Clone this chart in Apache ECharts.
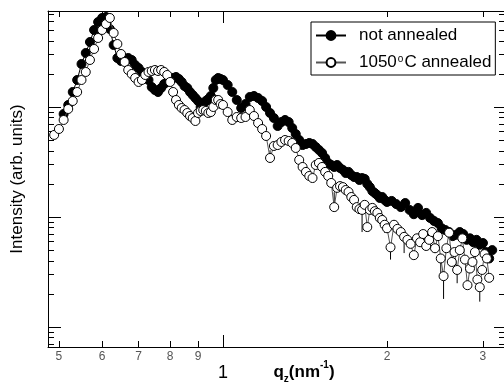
<!DOCTYPE html>
<html><head><meta charset="utf-8">
<script src="https://cdn.jsdelivr.net/npm/echarts@6/dist/echarts.min.js"></script>
<style>html,body{margin:0;padding:0;background:#fff}#c{width:504px;height:385px}</style>
</head><body><div id="c"></div>
<script>
// ---- data (q_z in nm^-1, intensity in arb. units) ----
const qNot = [0.51,0.52,0.53,0.54,0.55,0.56,0.57,0.58,0.59,0.60,
  0.61,0.62,0.63,0.64,0.65,0.66,0.67,0.68,0.69,0.70,
  0.71,0.72,0.73,0.74,0.75,0.76,0.77,0.78,0.79,0.80,
  0.81,0.82,0.83,0.84,0.85,0.86,0.87,0.88,0.89,0.90,
  0.91,0.92,0.93,0.94,0.95,0.96,0.97,0.98,0.99,1.00,
  1.02,1.04,1.06,1.08,1.10,1.12,1.14,1.16,1.18,1.20,
  1.22,1.24,1.26,1.28,1.30,1.32,1.34,1.36,1.38,1.40,
  1.42,1.44,1.46,1.48,1.50,1.52,1.54,1.56,1.58,1.60,
  1.62,1.64,1.66,1.68,1.70,1.72,1.74,1.76,1.78,1.80,
  1.82,1.84,1.86,1.88,1.90,1.92,1.94,1.96,1.98,2.00,
  2.04,2.08,2.12,2.16,2.20,2.24,2.28,2.32,2.36,2.40,
  2.44,2.48,2.52,2.56,2.60,2.64,2.68,2.72,2.76,2.80,
  2.84,2.88,2.92,2.96,3.00,3.04,3.08,3.12];
const iNot = [864,1043,1369,1760,2460,3097,3899,5012,5926,6445,
  6580,5119,3661,2789,2619,2675,2789,2675,2409,2262,
  2081,1954,1760,1520,1427,1369,1488,1619,1688,1760,
  1835,1874,1797,1688,1552,1488,1369,1285,1207,1134,
  1000,1065,1134,1182,1259,1488,1760,1835,1797,1760,
  1585,1369,1158,979,1065,1233,1259,1207,1134,1000,
  882,794,672,730,762,730,644,568,501,451,
  461,471,461,433,407,382,344,310,297,285,
  297,279,268,251,257,241,231,231,217,226,
  222,200,187,172,165,158,149,152,143,137,
  140,131,123,134,116,106,121,104,109,98,
  92,88,79,76,73,67,69,73,70,62,
  64,59,62,56,58,48,42,50];

const qAnn = [0.49,0.50,0.51,0.52,0.53,0.54,0.55,0.56,0.57,0.58,0.59,0.60,
  0.61,0.62,0.63,0.64,0.65,0.66,0.67,0.68,0.69,0.70,
  0.71,0.72,0.73,0.74,0.75,0.76,0.77,0.78,0.79,0.80,
  0.81,0.82,0.83,0.84,0.85,0.86,0.87,0.88,0.89,0.90,
  0.91,0.92,0.93,0.94,0.95,0.96,0.97,0.98,0.99,1.00,
  1.02,1.04,1.06,1.08,1.10,1.12,1.14,1.16,1.18,1.20,
  1.22,1.24,1.26,1.28,1.30,1.32,1.34,1.36,1.38,1.40,
  1.42,1.44,1.46,1.48,1.50,1.52,1.54,1.56,1.58,1.60,
  1.62,1.64,1.66,1.68,1.70,1.72,1.74,1.76,1.78,1.80,
  1.82,1.84,1.86,1.88,1.90,1.92,1.94,1.96,1.98,2.00,
  2.03,2.06,2.09,2.12,2.15,2.18,2.21,2.24,2.27,2.30,
  2.33,2.36,2.39,2.42,2.45,2.48,2.51,2.54,2.57,2.60,
  2.63,2.66,2.69,2.72,2.75,2.78,2.81,2.84,2.87,2.90,
  2.93,2.96,2.99,3.02,3.05,3.08];
const iAnn = [557,631,762,959,1134,1369,1760,2081,2675,3368,4240,5012,
  5681,6445,4708,3738,3033,2566,2169,1995,1835,1688,
  1760,1954,2081,2125,2169,2125,2169,2081,1954,1688,
  1369,1158,1043,979,939,882,828,794,746,882,
  920,939,920,882,900,1000,1158,1158,1065,1043,
  900,762,811,794,811,939,828,715,631,545,
  344,442,451,481,501,491,471,424,330,285,
  257,236,226,297,310,285,257,236,204,123,
  184,191,187,176,169,152,143,123,118,116,
  129,81,116,121,113,109,98,94,85,79,
  53,85,78,73,66,62,57,45,64,59,
  70,54.5,62,73,52,67,42,29,52,72,
  39,48,33,50,64,41,24,34,39,48,
  27,23,33,46,42,28];

// error bars (annealed sample): q position, lower and upper error
const annErrQ = [1.22, 1.60, 1.80, 1.98, 2.03, 2.15, 2.51, 2.54, 2.69, 2.96];
const annErrLow = [12, 6, 43, 13, 12, 19, 12, 11, 8, 6];
const annErrHigh = [60, 45, 6, 4, 4, 4, 4, 3, 3, 3];

// axis ticks / labels
const xTickValues = [0.5,0.6,0.7,0.8,0.9,1,2,3];
const xTickLabels = ['5','6','7','8','9','1','2','3'];
const xMajorTicks = [1];
const xMinorTicks = [0.5,0.6,0.7,0.8,0.9,2,3];
const yMajorTicks = [10,100,1000];
const yMinorTicks = [7,8,9,20,30,40,50,60,70,80,90,200,300,400,500,600,700,800,900,2000,3000,4000,5000,6000,7000];

const X_MIN = 0.4774, X_MAX = 3.279, Y_MIN = 6.58, Y_MAX = 7458;
const FONT = 'Liberation Sans, Arial, sans-serif';

const notData = qNot.map((q, k) => [q, iNot[k]]);
const annData = qAnn.map((q, k) => [q, iAnn[k]]);
const errData = annErrQ.map((q, k) => {
  const idx = qAnn.indexOf(q);
  const v = iAnn[idx];
  return [q, v - annErrLow[k], v + annErrHigh[k]];
});

function xAx(pos, ticks, len, line, extra) {
  return Object.assign({
    type: 'log', logBase: 10, min: X_MIN, max: X_MAX, position: pos,
    splitLine: {show: false},
    axisLine: {show: line, lineStyle: {color: '#000', width: 1}},
    axisTick: {show: true, inside: true, length: len, customValues: ticks, lineStyle: {color: '#000', width: 1}},
    axisLabel: {show: false}
  }, extra || {});
}
function yAx(pos, ticks, len, line, extra) {
  return Object.assign({
    type: 'log', logBase: 10, min: Y_MIN, max: Y_MAX, position: pos,
    splitLine: {show: false},
    axisLine: {show: line, lineStyle: {color: '#000', width: 1}},
    axisTick: {show: true, inside: true, length: len, customValues: ticks, lineStyle: {color: '#000', width: 1}},
    axisLabel: {show: false}
  }, extra || {});
}

const chart = echarts.init(document.getElementById('c'), null, {renderer: 'canvas'});
chart.setOption({
  animation: false,
  backgroundColor: '#fff',
  grid: {left: 48, top: 11, right: 0, bottom: 38, containLabel: false, outerBoundsMode: 'none'},
  legend: {
    orient: 'vertical', left: 311, top: 22,
    padding: [5, 4, 4, 4], itemGap: 10, itemWidth: 30, itemHeight: 11,
    borderColor: '#000', borderWidth: 1, backgroundColor: '#fff', borderRadius: 0,
    data: ['not annealed', '1050°C annealed'],
    formatter: n => n === '1050°C annealed' ? '1050{sup|o}C annealed' : n,
    textStyle: {fontSize: 17, fontFamily: FONT, color: '#000', padding: [0, 0, 0, 8],
      rich: {sup: {fontSize: 10, fontFamily: FONT, color: '#000', verticalAlign: 'top', lineHeight: 10, padding: [0, 1, 4, 1]}}}
  },
  xAxis: [
    xAx('bottom', xMajorTicks, 12, true, {
      axisLabel: {
        show: true, customValues: xTickValues, margin: 4, color: '#555', fontSize: 12, fontFamily: FONT,
        formatter: v => {
          let k = 0, best = 1e9;
          xTickValues.forEach((t, j) => { const d = Math.abs(t - v); if (d < best) { best = d; k = j; } });
          return xTickValues[k] === 1 ? '{big|' + xTickLabels[k] + '}' : xTickLabels[k];
        },
        rich: {big: {fontSize: 18, color: '#000', fontFamily: FONT, padding: [13, 0, 0, 0]}}
      },
      name: '{b|q}{sub|z}{b|(nm}{sup|-1}{b|)}', nameLocation: 'middle', nameGap: 13, nameMoveOverlap: false,
      nameTextStyle: {fontSize: 17, fontWeight: 'bold', fontFamily: FONT, color: '#000', padding: [0, 0, 0, 56],
        rich: {
          b: {fontSize: 17, fontWeight: 'bold', fontFamily: FONT, color: '#000', lineHeight: 24},
          sub: {fontSize: 10, fontWeight: 'bold', fontFamily: FONT, color: '#000', verticalAlign: 'bottom', lineHeight: 10},
          sup: {fontSize: 10, fontWeight: 'bold', fontFamily: FONT, color: '#000', verticalAlign: 'top', lineHeight: 10}
        }}
    }),
    xAx('bottom', xMinorTicks, 6, false),
    xAx('top', xMajorTicks, 12, true),
    xAx('top', xMinorTicks, 6, false)
  ],
  yAxis: [
    yAx('left', yMajorTicks, 13, true, {
      name: 'Intensity (arb. units)', nameLocation: 'middle', nameGap: 22, nameMoveOverlap: false,
      nameTextStyle: {fontSize: 17, fontFamily: FONT, color: '#000'}
    }),
    yAx('left', yMinorTicks, 6, false),
    yAx('right', yMajorTicks, 10, true),
    yAx('right', yMinorTicks, 5, false)
  ],
  series: [
    {
      name: 'not annealed', type: 'line', xAxisIndex: 0, yAxisIndex: 0, data: notData,
      symbol: 'circle', symbolSize: 9, showAllSymbol: true, z: 3,
      itemStyle: {color: '#000', borderColor: '#000', borderWidth: 1},
      lineStyle: {color: '#000', width: 1}
    },
    {
      name: 'errbars', type: 'custom', xAxisIndex: 0, yAxisIndex: 0, data: errData, z: 4,
      encode: {x: 0, y: [1, 2]},
      renderItem: (params, api) => {
        const p1 = api.coord([api.value(0), api.value(1)]);
        const p2 = api.coord([api.value(0), api.value(2)]);
        return {type: 'line', shape: {x1: p1[0], y1: p1[1], x2: p2[0], y2: p2[1]},
          style: {stroke: '#000', lineWidth: 1}};
      },
      silent: true
    },
    {
      name: '1050°C annealed', type: 'line', xAxisIndex: 0, yAxisIndex: 0, data: annData,
      symbol: 'circle', symbolSize: 9, showAllSymbol: true, z: 5,
      itemStyle: {color: '#fff', borderColor: '#000', borderWidth: 1},
      lineStyle: {color: '#555', width: 1}
    }
  ]
});
</script></body></html>
